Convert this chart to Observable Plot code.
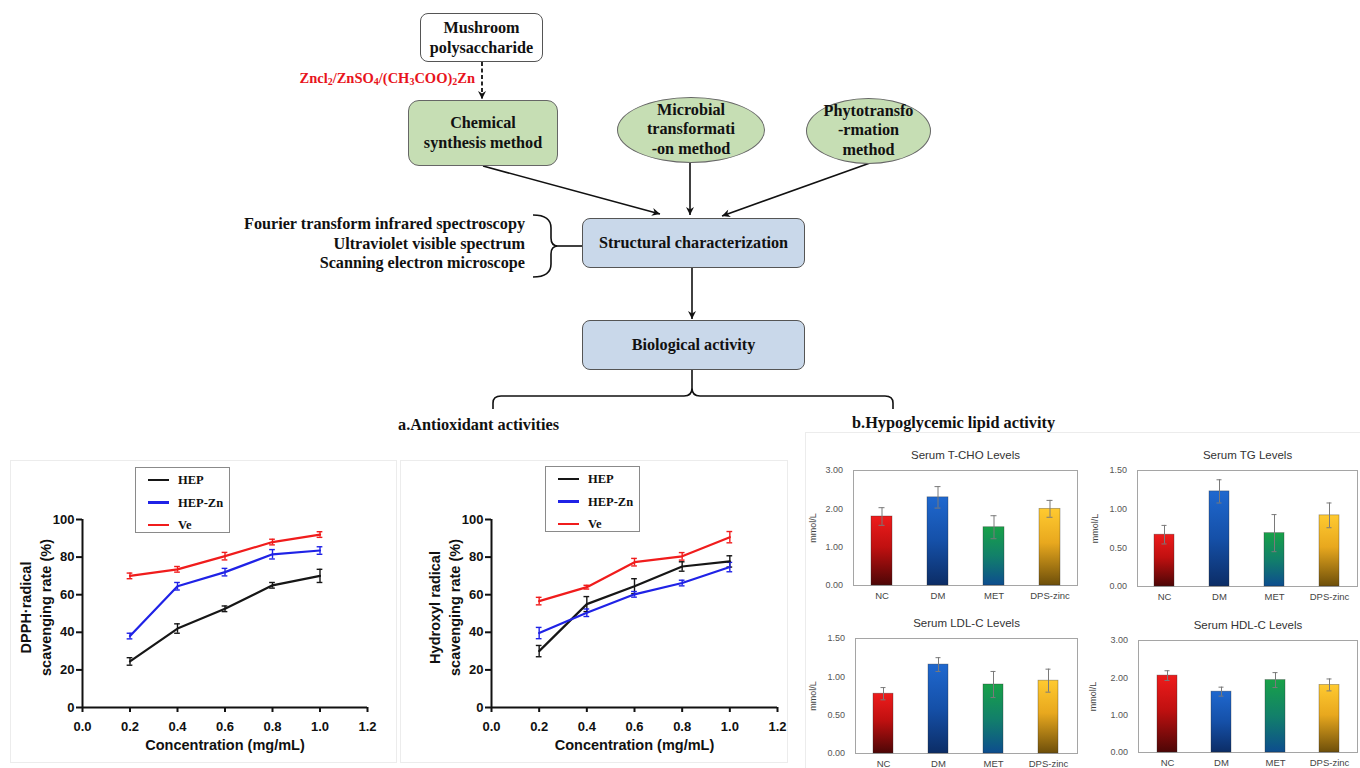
<!DOCTYPE html>
<html><head><meta charset="utf-8">
<script src="https://cdn.jsdelivr.net/npm/d3@7"></script>
<script src="https://cdn.jsdelivr.net/npm/@observablehq/plot@0.6"></script>
<style>
body{margin:0;background:#fff;}
#root{position:relative;width:1360px;height:768px;overflow:hidden;background:#fff;font-family:"Liberation Serif","Times New Roman",serif;color:#111;}
.node{position:absolute;display:flex;align-items:center;justify-content:center;text-align:center;font-weight:bold;font-size:16.2px;line-height:20px;box-sizing:border-box;color:#111;}
.abs{position:absolute;}
.panel{position:absolute;border:1px solid #ececec;box-sizing:border-box;}
.legend{position:absolute;border:1px solid #8a8a8a;background:#fff;box-sizing:border-box;font-family:"Liberation Serif","Times New Roman",serif;font-weight:bold;font-size:12.5px;}
.legend .ln{position:absolute;height:2.5px;width:21px;}
.legend .lt{position:absolute;line-height:14px;}
sub{font-size:10px;vertical-align:-2px;line-height:0;}
</style></head><body>
<div id="root">
  <svg width="0" height="0" style="position:absolute">
    <defs>
      <linearGradient id="gNC" x1="0" y1="0" x2="0" y2="1"><stop offset="0" stop-color="#ee1c1c"/><stop offset="0.45" stop-color="#c01010"/><stop offset="1" stop-color="#4d0606"/></linearGradient>
      <linearGradient id="gDM" x1="0" y1="0" x2="0" y2="1"><stop offset="0" stop-color="#1f68cf"/><stop offset="0.5" stop-color="#1550a8"/><stop offset="1" stop-color="#0c2d66"/></linearGradient>
      <linearGradient id="gMET" x1="0" y1="0" x2="0" y2="1"><stop offset="0" stop-color="#18a148"/><stop offset="0.5" stop-color="#12806a"/><stop offset="1" stop-color="#0d4d8e"/></linearGradient>
      <linearGradient id="gDPS" x1="0" y1="0" x2="0" y2="1"><stop offset="0" stop-color="#ffca30"/><stop offset="0.45" stop-color="#e8a81e"/><stop offset="1" stop-color="#6e4f0a"/></linearGradient>
    </defs>
  </svg>

  <div class="panel" style="left:10px;top:460px;width:387px;height:303px"></div>
  <div class="panel" style="left:400px;top:460px;width:388px;height:303px"></div>
  <div class="panel" style="left:805px;top:432px;width:560px;height:340px"></div>

  <!-- connectors -->
  <svg class="abs" style="left:0;top:0" width="1360" height="430">
    <defs>
      <marker id="ah" viewBox="0 0 10 10" refX="10" refY="5" markerWidth="9" markerHeight="8" markerUnits="userSpaceOnUse" orient="auto">
        <path d="M0,0 L10,5 L0,10 L3,5 z" fill="#111"/>
      </marker>
    </defs>
    <g fill="none" stroke="#111" stroke-width="1.6">
      <path d="M482,62 L482,99" stroke-dasharray="4,2.5" stroke-width="1.8" marker-end="url(#ah)"/>
      <path d="M483,166 L660,214" marker-end="url(#ah)"/>
      <path d="M690,163 L690,215" marker-end="url(#ah)"/>
      <path d="M870,163 L722,216" marker-end="url(#ah)"/>
      <path d="M692,268 L692,319" marker-end="url(#ah)"/>
      <path d="M533,215 Q551,215 551,228 L551,238 Q551,246 558,246 Q551,246 551,254 L551,264 Q551,277 533,277"/>
      <path d="M558,246 L582,246"/>
      <path d="M493,409 L493,403 Q493,396 501,396 L684,396 Q692,396 692,388 Q692,396 700,396 L885,396 Q893,396 893,403 L893,409"/>
      <path d="M692,370 L692,388"/>
    </g>
  </svg>

  <div class="node" style="left:420px;top:13px;width:123px;height:49px;background:#fff;border:1.5px solid #555;border-radius:8px;">Mushroom<br>polysaccharide</div>
  <div class="abs" style="right:885px;top:70px;color:#e8141c;font-weight:bold;font-size:14.5px;white-space:nowrap;">Zncl<sub>2</sub>/ZnSO<sub>4</sub>/(CH<sub>3</sub>COO)<sub>2</sub>Zn</div>
  <div class="node" style="left:408px;top:100px;width:150px;height:66px;background:#c6deb4;border:1.5px solid #666;border-radius:11px;">Chemical<br>synthesis method</div>
  <div class="node" style="left:617px;top:97px;width:148px;height:66px;background:#c6deb4;border:1.5px solid #666;border-radius:50%;line-height:19.5px;">Microbial<br>transformati<br>-on method</div>
  <div class="node" style="left:806px;top:98px;width:125px;height:66px;background:#c6deb4;border:1.5px solid #666;border-radius:50%;line-height:19.5px;">Phytotransfo<br>-rmation<br>method</div>
  <div class="abs" style="right:835px;top:215px;text-align:right;font-weight:bold;font-size:16.2px;line-height:19.5px;white-space:nowrap;">Fourier transform infrared spectroscopy<br>Ultraviolet visible spectrum<br>Scanning electron microscope</div>
  <div class="node" style="left:582px;top:218px;width:223px;height:50px;background:#c9d8ea;border:1.5px solid #555;border-radius:8px;">Structural characterization</div>
  <div class="node" style="left:582px;top:320px;width:223px;height:50px;background:#c9d8ea;border:1.5px solid #555;border-radius:8px;">Biological activity</div>
  <div class="abs" style="left:398px;top:415px;font-weight:bold;font-size:16.3px;white-space:nowrap;">a.Antioxidant activities</div>
  <div class="abs" style="left:852px;top:413px;font-weight:bold;font-size:16.3px;white-space:nowrap;">b.Hypoglycemic lipid activity</div>
</div>
<script>
// ---------- line chart data ----------
const conc = [0.2, 0.4, 0.6, 0.8, 1.0];
const series = ["HEP", "HEP-Zn", "Ve"];
const seriesColors = ["#161616", "#1f22e6", "#f01c1c"];
const xTicks = [0, 0.2, 0.4, 0.6, 0.8, 1.0, 1.2];
const yTicks = [0, 20, 40, 60, 80, 100];

const dpphHEP = [24.5, 42, 52.5, 65, 70];
const dpphHEPerr = [2, 2.5, 1.5, 1.5, 3.5];
const dpphHEPZn = [38, 64.5, 72, 81.5, 83.5];
const dpphHEPZnErr = [1.5, 2, 2, 2.5, 2];
const dpphVe = [70, 73.5, 80.5, 88, 92];
const dpphVeErr = [1.5, 1.5, 2, 1.5, 1.5];

const ohHEP = [30, 55, 64.5, 75, 77.7];
const ohHEPerr = [3, 4, 4, 2.5, 3];
const ohHEPZn = [39.6, 50.4, 60.2, 66.2, 74.7];
const ohHEPZnErr = [3, 2, 1.5, 1.5, 2.5];
const ohVe = [56.6, 64, 77.3, 80.4, 90.6];
const ohVeErr = [2, 1, 2, 2, 3];

// ---------- bar chart data ----------
const groups = ["NC", "DM", "MET", "DPS-zinc"];
const gradUrls = ["url(#gNC)", "url(#gDM)", "url(#gMET)", "url(#gDPS)"];
const tchoVals = [1.80, 2.30, 1.52, 2.00];
const tchoErr = [0.23, 0.28, 0.30, 0.22];
const tgVals = [0.67, 1.23, 0.69, 0.92];
const tgErr = [0.12, 0.15, 0.24, 0.16];
const ldlVals = [0.78, 1.16, 0.90, 0.95];
const ldlErr = [0.08, 0.09, 0.17, 0.15];
const hdlVals = [2.06, 1.63, 1.94, 1.81];
const hdlErr = [0.13, 0.12, 0.20, 0.16];
const ticks3 = [0, 1, 2, 3];
const ticks15 = [0, 0.5, 1, 1.5];

const root = document.getElementById("root");

function place(el, left, top) {
  el.style.position = "absolute";
  el.style.left = left + "px";
  el.style.top = top + "px";
  root.appendChild(el);
}

function lineRows(vals, errs) {
  const rows = [];
  series.forEach((s, k) => {
    conc.forEach((c, i) => rows.push({series: s, x: c, y: vals[k][i], e: errs[k][i]}));
  });
  return rows;
}

function linePlot(rows, o) {
  const cap = 0.012;
  return Plot.plot({
    width: o.width, height: 305,
    marginLeft: o.ml, marginRight: o.mr, marginTop: 64, marginBottom: 53,
    style: {fontFamily: '"Liberation Sans", Arial, sans-serif', background: "transparent", overflow: "visible", color: "#111"},
    x: {domain: [0, 1.2]},
    y: {domain: [0, 100]},
    color: {domain: series, range: seriesColors},
    marks: [
      Plot.axisX({ticks: xTicks, tickFormat: d3.format(".1f"), tickSize: 5, tickPadding: 9, strokeWidth: 2, fontSize: 13, fontWeight: "bold", label: null}),
      Plot.axisY({ticks: yTicks, tickSize: 6, tickPadding: 2, strokeWidth: 2, fontSize: 13, fontWeight: "bold", label: null}),
      Plot.ruleX([0], {strokeWidth: 2}),
      Plot.ruleY([0], {strokeWidth: 2}),
      Plot.ruleX(rows, {x: "x", y1: d => d.y - d.e, y2: d => d.y + d.e, stroke: "series", strokeWidth: 1.4}),
      Plot.ruleY(rows, {y: d => d.y + d.e, x1: d => d.x - cap, x2: d => d.x + cap, stroke: "series", strokeWidth: 1.4}),
      Plot.ruleY(rows, {y: d => d.y - d.e, x1: d => d.x - cap, x2: d => d.x + cap, stroke: "series", strokeWidth: 1.4}),
      Plot.line(rows, {x: "x", y: "y", z: "series", stroke: "series", strokeWidth: 2.2}),
      Plot.text([o.ylabel], {text: d => d, frameAnchor: "left", textAnchor: "middle", lineAnchor: "middle", dx: -48, dy: -6, rotate: -90, fontSize: 14.5, fontWeight: "bold", lineHeight: 1.35, fill: "#111"}),
      Plot.text(["Concentration (mg/mL)"], {text: d => d, frameAnchor: "bottom", textAnchor: "middle", lineAnchor: "middle", dy: 38, fontSize: 14.5, fontWeight: "bold", fill: "#111"})
    ]
  });
}

function legend(left, top) {
  const box = document.createElement("div");
  box.className = "legend";
  box.style.width = "95px";
  box.style.height = "66px";
  series.forEach((s, k) => {
    const cy = 12 + k * 22.5;
    const ln = document.createElement("div");
    ln.className = "ln";
    ln.style.left = "12px";
    ln.style.top = (cy - 1.25) + "px";
    ln.style.background = seriesColors[k];
    const t = document.createElement("div");
    t.className = "lt";
    t.style.left = "42px";
    t.style.top = (cy - 7) + "px";
    t.textContent = s;
    box.appendChild(ln);
    box.appendChild(t);
  });
  place(box, left, top);
}

const dpph = linePlot(lineRows([dpphHEP, dpphHEPZn, dpphVe], [dpphHEPerr, dpphHEPZnErr, dpphVeErr]),
  {width: 400, ml: 82, mr: 33, ylabel: "DPPH·radical\nscavenging rate (%)"});
place(dpph, 0, 455);
const oh = linePlot(lineRows([ohHEP, ohHEPZn, ohVe], [ohHEPerr, ohHEPZnErr, ohVeErr]),
  {width: 395, ml: 91, mr: 18, ylabel: "Hydroxyl radical\nscavenging rate (%)"});
place(oh, 400, 455);
legend(135, 467);
legend(545, 466);

function barPlot(vals, errs, o) {
  const rows = groups.map((g, i) => ({g, v: vals[i], e: errs[i]}));
  return Plot.plot({
    width: 280, height: o.h,
    marginLeft: o.ml, marginRight: 3, marginTop: o.mt, marginBottom: o.mb,
    style: {fontFamily: '"Liberation Sans", Arial, sans-serif', background: "transparent", overflow: "visible", color: "#555"},
    x: {domain: groups, paddingInner: 0.63, paddingOuter: 0.315},
    y: {domain: [0, o.yMax]},
    color: {domain: groups, range: gradUrls},
    marks: [
      Plot.frame({stroke: "#a5a5a5"}),
      Plot.barY(rows, {x: "g", y: "v", fill: "g", stroke: "#2a2a2a", strokeOpacity: 0.45, strokeWidth: 0.7}),
      Plot.ruleX(rows, {x: "g", y1: d => d.v - d.e, y2: d => d.v + d.e, stroke: "#7a7a7a", strokeWidth: 1}),
      Plot.tickY(rows, {x: "g", y: d => d.v + d.e, stroke: "#7a7a7a", inset: 7.5}),
      Plot.tickY(rows, {x: "g", y: d => d.v - d.e, stroke: "#7a7a7a", inset: 7.5}),
      Plot.axisY({ticks: o.ticks, tickFormat: d3.format(".2f"), tickSize: 0, tickPadding: 10.5, fontSize: 9, color: "#555", label: null}),
      Plot.axisX({tickSize: 0, tickPadding: 7, fontSize: 9.5, color: "#444", label: null}),
      Plot.text([o.title], {text: d => d, frameAnchor: "top", textAnchor: "middle", lineAnchor: "middle", dy: -15, fontSize: 11.5, fill: "#333"}),
      Plot.text(["mmol/L"], {text: d => d, frameAnchor: "left", textAnchor: "middle", lineAnchor: "middle", dx: o.ylDx, rotate: -90, fontSize: 9, fill: "#444"})
    ]
  });
}

place(barPlot(tchoVals, tchoErr, {title: "Serum T-CHO Levels", yMax: 3, ticks: ticks3, h: 172, ml: 53, mt: 32, mb: 25, ylDx: -40}), 800, 438);
place(barPlot(tgVals, tgErr, {title: "Serum TG Levels", yMax: 1.5, ticks: ticks15, h: 172, ml: 57, mt: 32, mb: 24, ylDx: -42}), 1080, 438);
place(barPlot(ldlVals, ldlErr, {title: "Serum LDL-C Levels", yMax: 1.5, ticks: ticks15, h: 162, ml: 55, mt: 32, mb: 15, ylDx: -42}), 800, 606);
place(barPlot(hdlVals, hdlErr, {title: "Serum HDL-C Levels", yMax: 3, ticks: ticks3, h: 162, ml: 58, mt: 34, mb: 16, ylDx: -45}), 1080, 606);
</script>
</body></html>
